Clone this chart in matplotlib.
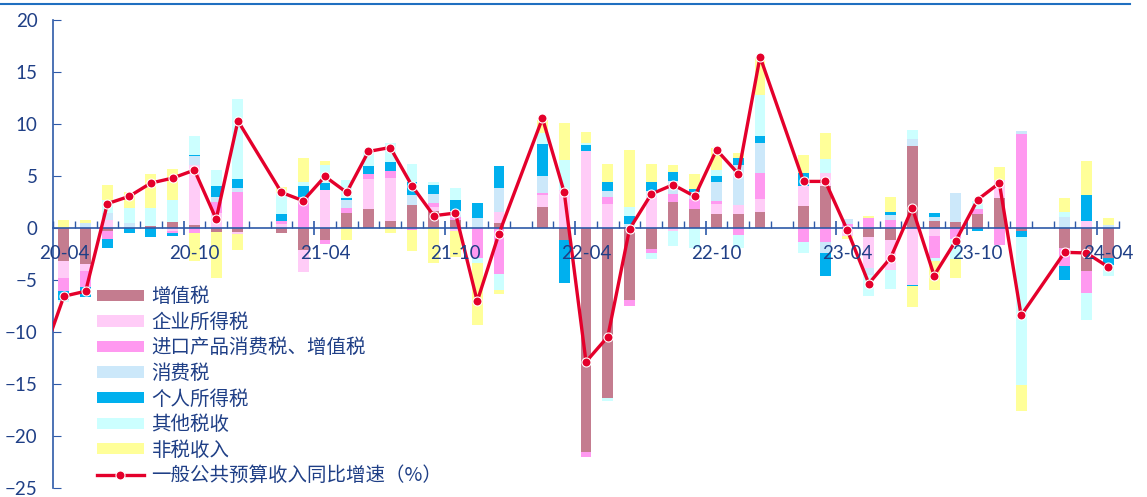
import numpy as np
import matplotlib
matplotlib.use("Agg")
import matplotlib.pyplot as plt
from matplotlib.patches import Patch
from matplotlib.lines import Line2D

nan = np.nan
months = ["20-04","20-05","20-06","20-07","20-08","20-09","20-10","20-11","20-12",
          "21-01","21-02","21-03","21-04","21-05","21-06","21-07","21-08","21-09","21-10","21-11","21-12",
          "22-01","22-02","22-03","22-04","22-05","22-06","22-07","22-08","22-09","22-10","22-11","22-12",
          "23-01","23-02","23-03","23-04","23-05","23-06","23-07","23-08","23-09","23-10","23-11","23-12",
          "24-01","24-02","24-03","24-04"]
tick_labels = ["20-04","20-10","21-04","21-10","22-04","22-10","23-04","23-10","24-04"]

vat = [-3.2,-3.5,-0.3,0,0.2,0.6,0.3,-0.4,-0.4, nan,-0.5,-2.1,-1.2,1.4,1.8,0.7,2.2,1.6,0.8,0,0.5,
       nan,2.0,-1.2,-21.5,-16.3,-6.9,-2.0,2.5,1.8,1.35,1.35,1.55,
       nan,2.1,4.0,0,-0.85,-1.2,7.9,0.65,0.55,1.3,2.9,-0.3, nan,-1.9,-4.15,-2.9]
cit = [-1.6,-0.6,0.8,0,0,-0.3,5.8,1.4,-0.2, nan,0.4,-2.1,3.7,0,2.9,4.1,0,0.4,-0.3,0,1.0,
       nan,1.2,3.7,7.4,2.3,0,3.0,-0.3,0,1.0,0.9,1.2,
       nan,1.9,1.3,-0.8,-3.0,-2.8,-5.45,-0.8,0,0,1.75,0, nan,0,0.65,0]
imp = [-1.3,-1.6,-0.8,0,0,-0.2,-0.5,1.1,3.5, nan,0.3,3.0,-0.35,0.5,0.5,0.7,-0.2,0.45,0.3,-2.9,-4.4,
       nan,0.2,0,-0.55,0.7,-0.6,-0.45,0.8,1.0,0.2,-0.65,2.5,
       nan,-1.3,-1.3,0.4,1.0,0.75,0,-2.1,-1.1,0.5,-1.6,9.0, nan,-1.75,-2.1,0]
cons = [0,0.5,0.6,0.5,0,0,0.8,0.5,0.3, nan,0,0,0,0.8,0,0,1.0,0.8,0.5,1.0,2.3,
        nan,1.6,0,0,0.6,0.4,0.6,1.2,0.7,1.9,3.8,2.9,
        nan,0,-1.1,0.45,-0.65,0.5,0.65,0.4,2.8,0,0,0.3, nan,1.05,0,0.3]
pit = [-0.8,-0.9,-0.8,-0.5,-0.9,-0.3,0.15,1.0,0.9, nan,0.6,1.0,0.6,0.2,0.8,0.8,1.2,0.9,1.1,1.4,2.2,
       nan,3.1,-4.1,0.6,0.85,0.8,0.8,0.85,0.25,0.55,0.65,0.7,
       nan,1.3,-2.2,0,0,0.3,-0.15,0.4,0,-0.3,0,-0.6, nan,-1.35,2.55,-0.65]
other = [-0.2,0,1.3,1.4,1.7,2.1,1.8,1.6,7.7, nan,2.1,0.4,1.8,1.7,1.3,1.9,1.8,0.25,1.1,-0.5,-1.6,
         nan,1.0,2.8,0.2,-0.3,0.8,-0.5,-1.4,-1.9,0.6,-1.3,3.9,
         nan,-1.1,1.35,0,-2.0,-1.85,0.9,-0.3,-1.9,0.8,0,-14.2, nan,0.5,-2.55,-1.1]
nontax = [0.8,0.3,1.4,1.6,3.3,3.0,-2.7,-4.4,-1.5, nan,0.5,2.3,0.3,-1.2,0,-0.5,-2.0,-3.4,-2.5,-5.9,-0.3,
          nan,1.3,3.6,1.0,1.75,5.5,1.75,0.7,1.4,2.1,0.5,3.6,
          nan,1.75,2.5,-0.3,0.15,1.45,-2.0,-2.8,-1.85,0,1.2,-2.5, nan,1.3,3.2,0.65]

line_months = ["20-03"] + months
growth = [-12.5, -6.56,-6.08,2.34,3.04,4.32,4.80,5.57,0.86,10.3, nan,3.42,2.62,4.96,3.42,7.36,7.74,4.06,1.18,1.44,-7.04,-0.54,
          nan,10.56,3.42,-12.86,-10.46,-0.1,3.26,4.16,3.04,7.52,5.21,16.47,
          nan,4.48,4.48,-0.16,-5.34,-2.88,1.92,-4.57,-1.22,2.72,4.32,-8.41,
          nan,-2.34,-2.40,-3.74]

names = ["增值税","企业所得税","进口产品消费税、增值税","消费税","个人所得税","其他税收","非税收入"]
line_name = "一般公共预算收入同比增速（%）"
colors = ["#C47C8F","#FFCCF7","#FF99F0","#CCE8FA","#00B0EE","#CCFFFF","#FFFF99"]
red = "#E4002B"
txt = "#1F3F86"
axc = "#2E5AA8"

plt.rcParams['font.family'] = ['Lato', 'Noto Sans CJK SC', 'DejaVu Sans']

fig = plt.figure(figsize=(11.47, 4.97), dpi=100)
ax = fig.add_axes([53/1147, 1-488/497, (1119-53)/1147, 468/497])

x = np.arange(len(months))
series = [vat, cit, imp, cons, pit, other, nontax]
pos_bottom = np.zeros(len(months))
neg_bottom = np.zeros(len(months))
for vals, c in zip(series, colors):
    v = np.array(vals, dtype=float)
    v0 = np.nan_to_num(v)
    pos = np.where(v0 > 0, v0, 0)
    neg = np.where(v0 < 0, v0, 0)
    ax.bar(x, pos, 0.5, bottom=pos_bottom, color=c, linewidth=0, zorder=2)
    ax.bar(x, neg, 0.5, bottom=neg_bottom, color=c, linewidth=0, zorder=2)
    pos_bottom += pos
    neg_bottom += neg

lx = np.arange(-1, len(months))
g = np.array(growth, dtype=float)
ok = ~np.isnan(g)
ax.plot(lx[ok], g[ok], color=red, lw=2.4, marker='o', ms=6.5, mfc=red, mec='white', mew=0.8, zorder=4)

ax.set_xlim(-0.5, len(months) - 0.5)
ax.set_ylim(-25, 20)
ax.set_yticks(np.arange(-25, 21, 5))
ax.tick_params(axis='y', direction='in', length=6, color=axc, labelcolor=txt, labelsize=13.5, pad=11)
for s in ['top', 'right']:
    ax.spines[s].set_visible(False)
ax.spines['left'].set_color(axc)
ax.spines['left'].set_linewidth(1.2)
ax.spines['bottom'].set_position(('data', 0))
ax.spines['bottom'].set_color(axc)
ax.spines['bottom'].set_linewidth(1.2)
ax.spines['bottom'].set_zorder(3)

major = [i + 0.5 for i in range(len(months)) if months[i] in ["20-09","21-03","21-09","22-03","22-09","23-03","23-09","24-03"]]
ax.set_xticks(major)
ax.set_xticks(np.arange(-0.5, len(months), 1.0), minor=True)
ax.tick_params(axis='x', which='major', direction='inout', length=10, color=axc, labelbottom=False, width=1.2)
ax.tick_params(axis='x', which='minor', direction='in', length=5, color=axc, width=1.0)
for lab in tick_labels:
    i = months.index(lab)
    ax.text(i, -2.45, lab, ha='center', va='center', color=txt, fontsize=13.5, zorder=5)

handles = [Patch(facecolor=c, edgecolor='none') for c in colors]
handles.append(Line2D([0], [0], color=red, lw=2.4, marker='o', ms=6.5, mfc=red, mec='white', mew=0.8))
leg = ax.legend(handles, names + [line_name], loc='upper left', bbox_to_anchor=(0.041, 0.431),
                frameon=False, prop={'family': ['Noto Sans CJK SC', 'DejaVu Sans'], 'size': 14.0},
                handlelength=2.42, handleheight=0.52, handletextpad=0.4, labelspacing=0.235,
                borderpad=0, borderaxespad=0)
for t in leg.get_texts():
    t.set_color(txt)
leg.set_zorder(6)

fig.add_artist(Line2D([0, 1130/1147], [1-3.5/497, 1-3.5/497], color="#1F6FC0", lw=1.5, transform=fig.transFigure))

fig.savefig("out.png", dpi=100)
